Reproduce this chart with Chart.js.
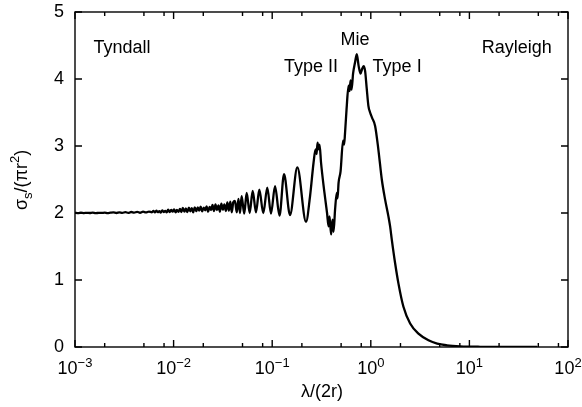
<!DOCTYPE html>
<html lang="en">
<head>
<meta charset="UTF-8">
<title>Scattering cross section</title>
<style>
body{margin:0;background:#fff;}
#chart{display:block;}
</style>
</head>
<body>
<canvas id="chart" width="582" height="407"></canvas>
<script src="https://cdn.jsdelivr.net/npm/chart.js"></script>
<script>
// lambda/(2r) values
var ratio = [
    0.00100, 0.00108, 0.00115, 0.00123, 0.00132, 0.00141, 0.00151, 0.00162, 0.00174, 0.00186,
    0.00200, 0.00214, 0.00229, 0.00245, 0.00263, 0.00282, 0.00302, 0.00324, 0.00347, 0.00372,
    0.00398, 0.00427, 0.00457, 0.00490, 0.00525, 0.00562, 0.00603,
    0.00624, 0.00646, 0.00668, 0.00692, 0.00716, 0.00741, 0.00767, 0.00794, 0.00822, 0.00851,
    0.00881, 0.00912, 0.00944, 0.00977, 0.0101, 0.0105, 0.0108, 0.0112, 0.0116, 0.0120,
    0.0124, 0.0129, 0.0133, 0.0138, 0.0143, 0.0148, 0.0153, 0.0158, 0.0164, 0.0170,
    0.0176, 0.0182, 0.0188, 0.0195, 0.0202, 0.0209, 0.0216, 0.0224, 0.0232, 0.0240,
    0.0248, 0.0257, 0.0266, 0.0275, 0.0285, 0.0295, 0.0305, 0.0316, 0.0327, 0.0339,
    0.0351, 0.0363, 0.0376, 0.0389, 0.0403,
    0.0419, 0.0437, 0.0455, 0.0471, 0.0490, 0.0520, 0.0551, 0.0591, 0.0634, 0.0685,
    0.0740, 0.0812, 0.0892, 0.0972, 0.1068, 0.1186, 0.1318, 0.1516, 0.1798, 0.2203,
    0.2420, 0.2626, 0.2752, 0.2817, 0.2884, 0.2952, 0.3022, 0.3129, 0.3357, 0.3600,
    0.3729, 0.3817, 0.3954, 0.4095, 0.4192, 0.4341, 0.4517, 0.4602, 0.4711, 0.4936,
    0.5233, 0.5356, 0.5483, 0.5678, 0.5951, 0.6092, 0.6236, 0.6384, 0.6611, 0.6927,
    0.7208, 0.7517, 0.7877, 0.8161, 0.8452, 0.8753, 0.9066, 0.9454, 0.9838, 1.031,
    1.106, 1.195, 1.293, 1.397, 1.509, 1.570, 1.634, 1.765, 1.906, 2.143,
    2.506, 3.043, 3.845, 4.711, 5.909, 8.065, 12.87, 25.96, 48.8
];
// sigma_s/(pi r^2)
var sigma = [
    2.003, 1.998, 2.004, 1.999, 2.002, 2.000, 2.005, 1.997, 2.003, 2.001,
    2.006, 1.998, 2.004, 2.008, 2.000, 2.010, 2.003, 2.012, 2.002, 2.015,
    2.006, 2.018, 2.004, 2.020, 2.008, 2.022, 2.010,
    2.030, 2.008, 2.035, 2.012, 2.028, 2.005, 2.038, 2.015, 2.032, 2.010,
    2.050, 2.012, 2.045, 2.020, 2.055, 2.008, 2.048, 2.018, 2.060, 2.015,
    2.075, 2.020, 2.070, 2.015, 2.080, 2.025, 2.072, 2.010, 2.085, 2.030,
    2.085, 2.035, 2.095, 2.025, 2.080, 2.040, 2.100, 2.020, 2.090, 2.045,
    2.120, 2.030, 2.130, 2.045, 2.115, 2.020, 2.140, 2.050, 2.130, 2.030,
    2.160, 2.035, 2.170, 2.010, 2.160,
    2.18, 2.01, 2.21, 2.00, 2.25, 1.99, 2.30, 2.00, 2.33, 2.01,
    2.35, 2.00, 2.38, 1.99, 2.40, 1.96, 2.58, 1.97, 2.68, 1.87,
    2.25, 2.75, 2.95, 2.88, 3.05, 2.95, 3.02, 2.75, 2.35, 2.00,
    1.80, 1.95, 1.68, 1.90, 1.72, 2.05, 2.30, 2.22, 2.45, 2.62,
    3.08, 3.02, 3.20, 3.55, 3.90, 3.82, 3.98, 3.84, 4.08, 4.25,
    4.37, 4.20, 4.08, 4.15, 4.19, 4.12, 3.88, 3.60, 3.50, 3.42,
    3.30, 2.94, 2.50, 2.20, 1.95, 1.80, 1.60, 1.25, 0.95, 0.60,
    0.35, 0.20, 0.10, 0.05, 0.025, 0.01, 0.003, 0.001, 0.0
];
var yTicks = [0, 1, 2, 3, 4, 5];
var xPowers = [-3, -2, -1, 0, 1, 2];
var xMinor = [2, 5, 8];
var notes = [
    {text: 'Tyndall', x: 0.00299, y: 4.39},
    {text: 'Mie', x: 0.693, y: 4.51},
    {text: 'Type II', x: 0.2477, y: 4.10},
    {text: 'Type I', x: 1.849, y: 4.10},
    {text: 'Rayleigh', x: 30.2, y: 4.39}
];

var FONT = '"Liberation Sans", Arial, Helvetica, sans-serif';

var points = ratio.map(function(v, i){ return {x: v, y: sigma[i]}; });

var frame = {//axes box, inward ticks and all texts
    id: 'frame',
    afterDraw: function(chart){
        var ctx = chart.ctx;
        var a = chart.chartArea;
        var sx = chart.scales.x, sy = chart.scales.y;
        ctx.save();
        ctx.strokeStyle = '#000';
        ctx.lineWidth = 1.4;
        ctx.strokeRect(a.left, a.top, a.right - a.left, a.bottom - a.top);

        ctx.beginPath();
        xPowers.forEach(function(p){
            var px = sx.getPixelForValue(Math.pow(10, p));
            ctx.moveTo(px, a.bottom); ctx.lineTo(px, a.bottom - 7);
            ctx.moveTo(px, a.top); ctx.lineTo(px, a.top + 7);
            if (p < 2) {
                xMinor.forEach(function(m){
                    var q = sx.getPixelForValue(m * Math.pow(10, p));
                    ctx.moveTo(q, a.bottom); ctx.lineTo(q, a.bottom - 4);
                    ctx.moveTo(q, a.top); ctx.lineTo(q, a.top + 4);
                });
            }
        });
        yTicks.forEach(function(v){
            var py = sy.getPixelForValue(v);
            ctx.moveTo(a.left, py); ctx.lineTo(a.left + 7, py);
            ctx.moveTo(a.right, py); ctx.lineTo(a.right - 7, py);
        });
        ctx.stroke();

        ctx.fillStyle = '#000';
        // y tick labels
        ctx.font = '18px ' + FONT;
        ctx.textAlign = 'right';
        ctx.textBaseline = 'middle';
        yTicks.forEach(function(v){
            ctx.fillText(String(v), a.left - 11, sy.getPixelForValue(v));
        });

        // x tick labels 10^n
        ctx.textAlign = 'left';
        ctx.textBaseline = 'alphabetic';
        xPowers.forEach(function(p){
            var px = sx.getPixelForValue(Math.pow(10, p));
            var exp = p < 0 ? '\u2212' + (-p) : String(p);
            ctx.font = '18px ' + FONT;
            var w1 = ctx.measureText('10').width;
            ctx.font = '13px ' + FONT;
            var w2 = ctx.measureText(exp).width;
            var x0 = px - (w1 + w2) / 2;
            ctx.font = '18px ' + FONT;
            ctx.fillText('10', x0, a.bottom + 27);
            ctx.font = '13px ' + FONT;
            ctx.fillText(exp, x0 + w1, a.bottom + 20);
        });

        // x axis title
        ctx.font = '18px ' + FONT;
        ctx.textAlign = 'center';
        ctx.fillText('\u03bb/(2r)', (a.left + a.right) / 2 + 0.5, 397);

        // y axis title, rotated
        ctx.save();
        ctx.translate(27, 180);
        ctx.rotate(-Math.PI / 2);
        var parts = [['\u03c3', 18, 0], ['s', 13, 5], ['/(\u03c0r', 18, 0], ['2', 13, -8], [')', 18, 0]];
        var total = 0;
        parts.forEach(function(p){ ctx.font = p[1] + 'px ' + FONT; total += ctx.measureText(p[0]).width; });
        var cx = -total / 2;
        ctx.textAlign = 'left';
        parts.forEach(function(p){
            ctx.font = p[1] + 'px ' + FONT;
            ctx.fillText(p[0], cx, p[2]);
            cx += ctx.measureText(p[0]).width;
        });
        ctx.restore();

        // region names
        ctx.font = '18px ' + FONT;
        ctx.textAlign = 'center';
        notes.forEach(function(n){
            ctx.fillText(n.text, sx.getPixelForValue(n.x), sy.getPixelForValue(n.y));
        });
        ctx.restore();
    }
};

var ctx = document.getElementById('chart').getContext('2d');
var chart = new Chart(ctx, {
    type: 'line',
    data: {
        datasets: [{
            label: 'sigma',
            data: points,
            borderColor: '#000',
            borderWidth: 2.3,
            fill: false,
            pointRadius: 0,
            cubicInterpolationMode: 'monotone'
        }]
    },
    options: {
        responsive: false,
        animation: false,
        devicePixelRatio: 1,
        layout: {padding: {left: 75, right: 14, top: 12, bottom: 60}},
        plugins: {legend: {display: false}, tooltip: {enabled: false}},
        scales: {
            x: {type: 'logarithmic', min: 0.001, max: 100, display: false},
            y: {type: 'linear', min: 0, max: 5, display: false}
        }
    },
    plugins: [frame]
});
</script>
</body>
</html>
